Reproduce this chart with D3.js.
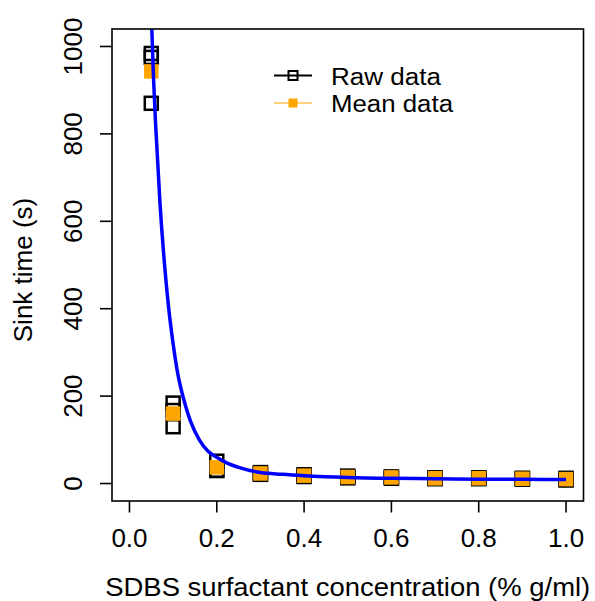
<!DOCTYPE html>
<html><head><meta charset="utf-8">
<script src="https://cdn.jsdelivr.net/npm/d3@7"></script>
<style>
html,body{margin:0;padding:0;background:#fff;}
svg{display:block;font-family:"Liberation Sans",Arial,Helvetica,sans-serif;}
</style></head>
<body>
<svg id="chart" width="595" height="601"></svg>
<script>
// ---- data ----
const concentrations = [0.05, 0.1, 0.2, 0.3, 0.4, 0.5, 0.6, 0.7, 0.8, 0.9, 1.0];
const rawRep1 = [984, 184, 51, 25, 20, 17, 15, 13, 13, 12, 12];
const rawRep2 = [975, 167, 30, 22, 18, 15, 14, 12, 12, 11, 10];
const rawRep3 = [870, 130, 30, 21, 16, 13, 12, 11, 11, 10, 8];
const meanValues = [943, 160, 37, 23, 18, 15, 14, 12, 12, 11, 10];
const fitX = [0.05, 0.055, 0.06, 0.07, 0.08, 0.09, 0.1, 0.11, 0.125, 0.14, 0.16, 0.18, 0.2, 0.225, 0.25, 0.3, 0.35, 0.4, 0.5, 0.6, 0.7, 0.8, 0.9, 1.0];
const fitY = [1075, 930, 820, 640, 505, 400, 320, 255, 190, 142, 100, 74, 60, 46, 37, 25, 21, 18, 14, 12, 11, 10, 9.5, 9];
const xTicks = [0.0, 0.2, 0.4, 0.6, 0.8, 1.0];
const yTicks = [0, 200, 400, 600, 800, 1000];
const xTitle = "SDBS surfactant concentration (% g/ml)";
const yTitle = "Sink time (s)";
const legendLabels = ["Raw data", "Mean data"];

// ---- layout ----
const box = {left: 112, top: 29, right: 583.5, bottom: 501};
const x = d3.scaleLinear().domain([-0.04, 1.04]).range([box.left, box.right]);
const y = d3.scaleLinear().domain([-40, 1040]).range([box.bottom, box.top]);
const FS = 26;

const svg = d3.select("#chart");

// clip
svg.append("defs").append("clipPath").attr("id","clip")
  .append("rect").attr("x",box.left).attr("y",box.top)
  .attr("width",box.right-box.left).attr("height",box.bottom-box.top);

// raw squares
const rawPts = [];
concentrations.forEach((c,i)=>{ [rawRep1, rawRep2, rawRep3].forEach(r=>rawPts.push({x:c, y:r[i]})); });
const rs = 13;
svg.append("g").selectAll("rect").data(rawPts).join("rect")
  .attr("x", d=>x(d.x)-rs/2).attr("y", d=>y(d.y)-rs/2)
  .attr("width", rs).attr("height", rs)
  .attr("fill","none").attr("stroke","#000").attr("stroke-width",2.5);

// mean squares
const ms = 14.5;
svg.append("g").selectAll("rect").data(concentrations.map((c,i)=>({x:c,y:meanValues[i]}))).join("rect")
  .attr("x", d=>x(d.x)-ms/2).attr("y", d=>y(d.y)-ms/2)
  .attr("width", ms).attr("height", ms).attr("fill","#FFA500");

// fitted curve
const line = d3.line().x(d=>x(d[0])).y(d=>y(d[1])).curve(d3.curveMonotoneX);
svg.append("path").attr("clip-path","url(#clip)")
  .datum(fitX.map((v,i)=>[v, fitY[i]]))
  .attr("d", line).attr("fill","none").attr("stroke","#0000FF").attr("stroke-width",3.5)
  .attr("stroke-linejoin","round");

// box
svg.append("rect").attr("x",box.left).attr("y",box.top)
  .attr("width",box.right-box.left).attr("height",box.bottom-box.top)
  .attr("fill","none").attr("stroke","#000").attr("stroke-width",1.6);

// x axis ticks
const gx = svg.append("g");
gx.selectAll("line").data(xTicks).join("line")
  .attr("x1",d=>x(d)).attr("x2",d=>x(d)).attr("y1",box.bottom).attr("y2",box.bottom+11.5)
  .attr("stroke","#000").attr("stroke-width",1.6);
gx.selectAll("text").data(xTicks).join("text")
  .attr("x",d=>x(d)).attr("y",547).attr("text-anchor","middle")
  .attr("font-size",FS).text(d=>d3.format(".1f")(d));

// y axis ticks
const gy = svg.append("g");
gy.selectAll("line").data(yTicks).join("line")
  .attr("x1",box.left-12).attr("x2",box.left).attr("y1",d=>y(d)).attr("y2",d=>y(d))
  .attr("stroke","#000").attr("stroke-width",1.6);
gy.selectAll("text").data(yTicks).join("text")
  .attr("transform",d=>`translate(82,${y(d)}) rotate(-90)`)
  .attr("text-anchor","middle").attr("font-size",FS).text(d=>d);

// titles
svg.append("text").attr("x",(box.left+box.right)/2).attr("y",596)
  .attr("text-anchor","middle").attr("font-size",FS)
  .attr("textLength",485).attr("lengthAdjust","spacingAndGlyphs").text(xTitle);
svg.append("text").attr("transform",`translate(32,270) rotate(-90)`)
  .attr("text-anchor","middle").attr("font-size",FS).text(yTitle);

// legend
const lg = svg.append("g");
const ly = [75.5, 103];
const lw = [110, 122];
lg.append("line").attr("x1",274).attr("x2",312).attr("y1",ly[0]).attr("y2",ly[0])
  .attr("stroke","#000").attr("stroke-width",2);
lg.append("rect").attr("x",293-4.5).attr("y",ly[0]-4.5).attr("width",9).attr("height",9)
  .attr("fill","none").attr("stroke","#000").attr("stroke-width",2);
lg.append("line").attr("x1",274).attr("x2",312).attr("y1",ly[1]).attr("y2",ly[1])
  .attr("stroke","#FFA500").attr("stroke-width",1.2);
lg.append("rect").attr("x",293-4.5).attr("y",ly[1]-4.5).attr("width",9).attr("height",9)
  .attr("fill","#FFA500");
lg.selectAll("text").data(legendLabels).join("text")
  .attr("x",331).attr("y",(d,i)=>ly[i]+9).attr("font-size",23.5)
  .attr("textLength",(d,i)=>lw[i]).attr("lengthAdjust","spacingAndGlyphs").text(d=>d);
</script>
</body></html>
